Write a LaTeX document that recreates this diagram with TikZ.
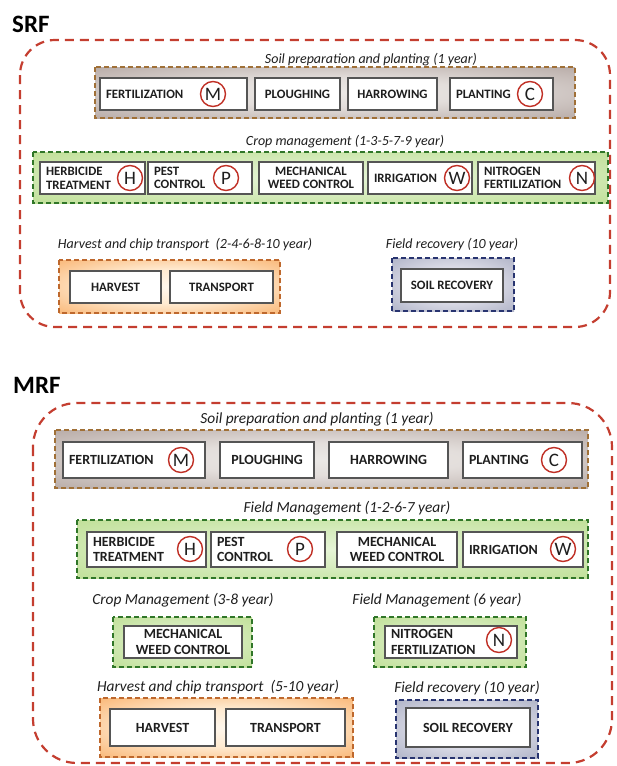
\documentclass[tikz,border=0pt]{standalone}
\usepackage{fontspec}
\setmainfont{Carlito}
\definecolor{redd}{RGB}{196,62,48}
\definecolor{brownline}{RGB}{160,112,55}
\definecolor{greenline}{RGB}{48,118,40}
\definecolor{orangeline}{RGB}{190,104,45}
\definecolor{blueline}{RGB}{40,52,112}
\definecolor{circred}{RGB}{192,48,38}
\definecolor{boxgray}{RGB}{85,85,85}
\definecolor{txt}{RGB}{30,30,30}
\pgfdeclareradialshading{shbrown}{\pgfpoint{0bp}{0bp}}{rgb(0bp)=(0.92,0.91,0.90); rgb(14bp)=(0.89,0.87,0.86); rgb(44bp)=(0.66,0.60,0.58); rgb(72bp)=(0.62,0.56,0.54)}
\pgfdeclareradialshading{shgreen}{\pgfpoint{0bp}{0bp}}{rgb(0bp)=(0.90,0.96,0.84); rgb(14bp)=(0.85,0.93,0.76); rgb(44bp)=(0.72,0.86,0.54); rgb(72bp)=(0.68,0.84,0.48)}
\pgfdeclareradialshading{shorange}{\pgfpoint{0bp}{0bp}}{rgb(0bp)=(1,0.97,0.93); rgb(16bp)=(1,0.92,0.82); rgb(44bp)=(0.97,0.64,0.33); rgb(72bp)=(0.96,0.58,0.26)}
\pgfdeclareradialshading{shblue}{\pgfpoint{0bp}{0bp}}{rgb(0bp)=(0.94,0.94,0.96); rgb(14bp)=(0.88,0.88,0.92); rgb(44bp)=(0.62,0.64,0.73); rgb(72bp)=(0.56,0.58,0.68)}
\newcommand\IB[7]{\pgfmathsetmacro\ibw{#4-#2-12}\node[ib,#6,minimum width={#4-#2},minimum height={#5-#3}] (#1) at ({(#2+#4)/2},{(#3+#5)/2}) {#7};}
\begin{document}
\begin{tikzpicture}[x=1pt,y=-1pt,
  title/.style={font=\bfseries\fontsize{25}{28}\selectfont, text=black, inner sep=0, anchor=base west},
  outer/.style={draw=redd, line width=2.2pt, dash pattern=on 9pt off 6pt, rounded corners=#1},
  gsmall/.style={font=\itshape\fontsize{14}{16}\selectfont, text=txt, anchor=base, inner sep=0},
  gbig/.style={font=\itshape\fontsize{15.4}{18}\selectfont, text=txt, anchor=base, inner sep=0},
  grp/.style={line width=1.6pt, dash pattern=on 5pt off 3pt},
  gbrown/.style={grp, draw=brownline, shading=shbrown},
  ggreen/.style={grp, draw=greenline, shading=shgreen},
  gorange/.style={grp, draw=orangeline, shading=shorange},
  gblue/.style={grp, draw=blueline, shading=shblue},
  ib/.style={draw=boxgray, fill=white, line width=1.1pt, inner xsep=6pt, inner ysep=0pt, text=txt},
  sm/.style={font=\bfseries\fontsize{12.8}{13.6}\selectfont},
  bg/.style={font=\bfseries\fontsize{14}{15.5}\selectfont},
  L/.style={align=left, text width=\ibw pt},
  C/.style={align=center},
  cir/.style={circle, draw=circred, line width=1.4pt, minimum size=#1, inner sep=0, font=\fontsize{19}{20}\selectfont, text=txt},
  cir/.default=25pt
]
\useasboundingbox (0,0) rectangle (617,766);

% ================= SRF =================
\node[title] (srf) at (12,32) {SRF};
\draw[outer=35pt] (20,40) rectangle (610,327);

\node[gsmall] (s1) at (371,63) {Soil preparation and planting (1 year)};
\path[gbrown] (95,67) rectangle (575,118);
\IB{sfert}{100}{78}{247}{110}{sm,L}{FERTILIZATION}
\IB{splough}{255}{78}{340}{110}{sm,C}{PLOUGHING}
\IB{sharrow}{348}{78}{437}{110}{sm,C}{HARROWING}
\IB{splant}{450}{78}{553}{110}{sm,L}{PLANTING}
\node[cir] (sM) at (213,94) {M};
\node[cir] (sC) at (530,94) {C};

\node[gsmall] (s2) at (345,145) {Crop management (1-3-5-7-9 year)};
\path[ggreen] (33,152) rectangle (608,203);
\IB{sherb}{40}{162}{145}{194}{sm,L}{HERBICIDE\\TREATMENT}
\IB{spest}{148}{162}{252}{194}{sm,L}{PEST\\CONTROL}
\IB{smech}{259}{162}{363}{194}{sm,C}{MECHANICAL\\WEED CONTROL}
\IB{sirr}{368}{162}{472}{194}{sm,L}{IRRIGATION}
\IB{snit}{478}{162}{595}{194}{sm,L}{NITROGEN\\FERTILIZATION}
\node[cir] (sH) at (130,178) {H};
\node[cir] (sP) at (226,178) {P};
\node[cir] (sW) at (457,178) {W};
\node[cir] (sN) at (582,178) {N};

\node[gsmall] (s3) at (185,248) {Harvest and chip transport~ (2-4-6-8-10 year)};
\path[gorange] (59,260) rectangle (280,313);
\IB{sharv}{70}{271}{161}{303}{sm,C}{HARVEST}
\IB{strans}{170}{271}{273}{303}{sm,C}{TRANSPORT}

\node[gsmall] (s4) at (452,248) {Field recovery (10 year)};
\path[gblue] (392,258) rectangle (514,311);
\IB{ssoil}{401}{269}{503}{302}{sm,C}{SOIL RECOVERY}

% ================= MRF =================
\node[title] (mrf) at (13,393) {MRF};
\draw[outer=44pt] (33,403) rectangle (612,763);

\node[gbig] (m1) at (317,423) {Soil preparation and planting (1 year)};
\path[gbrown] (55,430) rectangle (588,488);
\IB{mfert}{63}{442}{205}{478}{bg,L}{FERTILIZATION}
\IB{mplough}{220}{442}{314}{478}{bg,C}{PLOUGHING}
\IB{mharrow}{329}{442}{448}{478}{bg,C}{HARROWING}
\IB{mplant}{463}{442}{582}{478}{bg,L}{PLANTING}
\node[cir] (mM) at (181,460) {M};
\node[cir] (mC) at (554,460) {C};

\node[gbig] (m2) at (347,512) {Field Management (1-2-6-7 year)};
\path[ggreen] (77,520) rectangle (588,578);
\IB{mherb}{87}{532}{206}{567}{bg,L}{HERBICIDE\\TREATMENT}
\IB{mpest}{211}{532}{325}{567}{bg,L}{PEST\\CONTROL}
\IB{mmech}{337}{532}{457}{567}{bg,C}{MECHANICAL\\WEED CONTROL}
\IB{mirr}{463}{532}{583}{567}{bg,L}{IRRIGATION}
\node[cir] (mH) at (190,549) {H};
\node[cir] (mP) at (300,549) {P};
\node[cir] (mW) at (563,549) {W};

\node[gbig] (m3) at (183,604) {Crop Management (3-8 year)};
\path[ggreen] (113,617) rectangle (252,667);
\IB{mmech2}{124}{626}{242}{658}{bg,C}{MECHANICAL\\WEED CONTROL}

\node[gbig] (m4) at (437,604) {Field Management (6 year)};
\path[ggreen] (374,617) rectangle (526,667);
\IB{mnit}{385}{626}{517}{658}{bg,L}{NITROGEN\\FERTILIZATION}
\node[cir] (mN) at (499,640) {N};

\node[gbig] (m5) at (218,691) {Harvest and chip transport~ (5-10 year)};
\path[gorange] (100,698) rectangle (353,757);
\IB{mharv}{110}{709}{215}{746}{bg,C}{HARVEST}
\IB{mtrans}{226}{709}{345}{746}{bg,C}{TRANSPORT}

\node[gbig] (m6) at (467,692) {Field recovery (10 year)};
\path[gblue] (396,700) rectangle (538,758);
\IB{msoil}{406}{708}{530}{747}{bg,C}{SOIL RECOVERY}
\end{tikzpicture}
\end{document}
